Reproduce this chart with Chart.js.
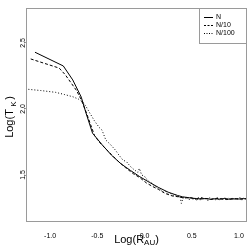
<!DOCTYPE html>
<html>
<head>
<meta charset="utf-8">
<script src="https://cdn.jsdelivr.net/npm/chart.js@4"></script>
<style>
  body { margin: 0; background: #fff; }
  #wrap { width: 249px; height: 249px; }
</style>
</head>
<body>
<div id="wrap"><canvas id="chart" width="249" height="249"></canvas></div>
<script>
// series names
const seriesNames = ['N', 'N/10', 'N/100'];

// N
const xN = [-1.16, -0.86, -0.76, -0.67, -0.62, -0.55, -0.45, -0.35, -0.25, -0.15, -0.05, 0.05, 0.15, 0.25,
  0.35, 0.4, 0.45, 0.5, 0.55, 0.6, 0.65, 0.7, 0.75, 0.8, 0.85, 0.9, 0.95, 1.0, 1.05, 1.1, 1.13];
const yN = [2.43, 2.326, 2.22, 2.09, 1.97, 1.816, 1.73, 1.65, 1.585, 1.535, 1.487, 1.445, 1.405, 1.37,
  1.345, 1.335, 1.33, 1.324, 1.322, 1.318, 1.322, 1.316, 1.32, 1.317, 1.322, 1.316, 1.32, 1.318, 1.321, 1.317, 1.319];

// N/10
const xN10 = [-1.205, -0.904, -0.84, -0.78, -0.72, -0.67, -0.62, -0.57, -0.53, -0.48, -0.42, -0.35, -0.28, -0.2,
  -0.12, -0.05, 0.02, 0.08, 0.15, 0.22, 0.3, 0.36, 0.42, 0.48, 0.55, 0.62, 0.7, 0.78, 0.86, 0.94, 1.02, 1.1];
const yN10 = [2.379, 2.31, 2.26, 2.2, 2.14, 2.07, 1.98, 1.88, 1.8, 1.75, 1.705, 1.655, 1.605, 1.555,
  1.51, 1.48, 1.44, 1.415, 1.39, 1.36, 1.34, 1.335, 1.325, 1.33, 1.318, 1.325, 1.316, 1.322, 1.315, 1.32, 1.318, 1.322];

// N/100
const xN100 = [-1.23, -1.1, -0.94, -0.85, -0.76, -0.7, -0.656, -0.62, -0.58, -0.53, -0.48, -0.45, -0.41, -0.36,
  -0.31, -0.27, -0.23, -0.19, -0.15, -0.11, -0.07, -0.055, -0.03, 0.0, 0.02, 0.05, 0.075, 0.1, 0.125, 0.15,
  0.175, 0.2, 0.225, 0.25, 0.275, 0.3, 0.325, 0.35, 0.375, 0.39, 0.41, 0.43, 0.45, 0.47, 0.49, 0.51, 0.53,
  0.55, 0.57, 0.59, 0.61, 0.63, 0.65, 0.67, 0.69, 0.71, 0.73, 0.75, 0.77, 0.79, 0.81, 0.83, 0.85, 0.87,
  0.89, 0.91, 0.93, 0.95, 0.97, 0.99, 1.01, 1.03, 1.05, 1.07, 1.09, 1.11];
const yN100 = [2.149, 2.14, 2.126, 2.11, 2.093, 2.075, 2.055, 2.02, 1.97, 1.91, 1.86, 1.84, 1.765, 1.73,
  1.69, 1.65, 1.614, 1.6, 1.565, 1.54, 1.52, 1.55, 1.5, 1.49, 1.47, 1.45, 1.44, 1.42, 1.41, 1.4,
  1.385, 1.37, 1.375, 1.355, 1.36, 1.345, 1.35, 1.335, 1.34, 1.285, 1.33, 1.325, 1.335, 1.31, 1.33, 1.315, 1.325,
  1.305, 1.33, 1.31, 1.335, 1.315, 1.32, 1.305, 1.33, 1.31, 1.325, 1.312, 1.33, 1.31, 1.325, 1.315, 1.33, 1.31,
  1.325, 1.315, 1.33, 1.31, 1.325, 1.318, 1.33, 1.31, 1.325, 1.315, 1.328, 1.318];

// tick labels
const xTicks = [-1.0, -0.5, 0.0, 0.5, 1.0];
const yTicks = [1.5, 2.0, 2.5];

const FONT = "'Liberation Sans', Arial, sans-serif";

const toPoints = (xs, ys) => xs.map((x, i) => ({ x: x, y: ys[i] }));

const lineStyle = (dash) => ({
  showLine: true,
  borderColor: '#000',
  borderWidth: 1,
  borderDash: dash,
  pointRadius: 0,
  fill: false,
  tension: 0
});

// writes a label with a subscript, centered on (x, y)
function subText(ctx, parts, x, y) {
  let total = 0;
  parts.forEach(p => {
    ctx.font = p.size + 'px ' + FONT;
    p.w = ctx.measureText(p.t).width + (p.gap || 0);
    total += p.w;
  });
  let cx = x - total / 2;
  ctx.textAlign = 'left';
  ctx.textBaseline = 'alphabetic';
  parts.forEach(p => {
    ctx.font = p.size + 'px ' + FONT;
    ctx.fillText(p.t, cx + (p.gap || 0), y + (p.dy || 0));
    cx += p.w;
  });
}

const framePlugin = {
  id: 'frame',
  afterDraw(chart) {
    const { ctx, chartArea: a } = chart;
    ctx.save();
    ctx.strokeStyle = '#9a9a9a';
    ctx.lineWidth = 1;
    ctx.strokeRect(a.left + 0.5, a.top + 0.5, a.right - a.left - 1, a.bottom - a.top - 1);

    // axis titles
    ctx.fillStyle = '#000';
    subText(ctx, [
      { t: 'Log(', size: 11 },
      { t: 'R', size: 11 },
      { t: 'AU', size: 8, dy: 2.5 },
      { t: ')', size: 11 }
    ], (a.left + a.right) / 2, 242.5);

    ctx.translate(13, (a.top + a.bottom) / 2 + 2);
    ctx.rotate(-Math.PI / 2);
    subText(ctx, [
      { t: 'Log(', size: 11 },
      { t: 'T', size: 11 },
      { t: 'K', size: 8, dy: 2.5, gap: 2.5 },
      { t: ')', size: 11, gap: 1.5 }
    ], 0, 0);
    ctx.restore();

    // legend, top right corner
    const bx = 199, by = a.top, bw = a.right - bx, bh = 36;
    ctx.save();
    ctx.fillStyle = '#fff';
    ctx.fillRect(bx, by, bw, bh);
    ctx.strokeStyle = '#9a9a9a';
    ctx.strokeRect(bx + 0.5, by + 0.5, bw - 1, bh - 1);
    ctx.font = '7px ' + FONT;
    ctx.textBaseline = 'middle';
    ctx.textAlign = 'left';
    chart.data.datasets.forEach((ds, i) => {
      const ly = by + 9.5 + i * 8;
      ctx.strokeStyle = ds.borderColor;
      ctx.lineWidth = 1;
      ctx.setLineDash(i === 0 ? [] : (i === 1 ? [2, 1.5] : [1, 1.5]));
      ctx.beginPath();
      ctx.moveTo(bx + 5, ly);
      ctx.lineTo(bx + 14, ly);
      ctx.stroke();
      ctx.setLineDash([]);
      ctx.fillStyle = '#000';
      ctx.fillText(ds.label, bx + 17, ly);
    });
    ctx.restore();
  }
};

new Chart(document.getElementById('chart'), {
  type: 'scatter',
  data: {
    datasets: [
      Object.assign({ label: seriesNames[0], data: toPoints(xN, yN) }, lineStyle([])),
      Object.assign({ label: seriesNames[1], data: toPoints(xN10, yN10) }, lineStyle([3, 2])),
      Object.assign({ label: seriesNames[2], data: toPoints(xN100, yN100) }, lineStyle([1, 2]))
    ]
  },
  options: {
    responsive: false,
    animation: false,
    layout: { padding: { top: 8, right: 2, left: 0, bottom: 0 } },
    plugins: {
      legend: { display: false },
      tooltip: { enabled: false }
    },
    scales: {
      x: {
        type: 'linear',
        min: -1.255,
        max: 1.085,
        afterFit: (s) => { s.height = 27; },
        afterBuildTicks: (s) => { s.ticks = xTicks.map(v => ({ value: v })); },
        grid: { display: false },
        border: { display: false },
        ticks: {
          padding: 2,
          maxRotation: 0,
          color: '#000',
          font: { family: FONT, size: 7 },
          callback: (v) => Number(v).toFixed(1)
        }
      },
      y: {
        type: 'linear',
        min: 1.144,
        max: 2.765,
        afterFit: (s) => { s.width = 26; },
        afterBuildTicks: (s) => { s.ticks = yTicks.map(v => ({ value: v })); },
        grid: { drawOnChartArea: false, drawTicks: true, tickLength: 2, color: '#9a9a9a' },
        border: { display: false },
        ticks: {
          padding: -4,
          minRotation: 90,
          maxRotation: 90,
          crossAlign: 'center',
          color: '#000',
          font: { family: FONT, size: 7 },
          callback: (v) => Number(v).toFixed(1)
        }
      }
    }
  },
  plugins: [framePlugin]
});
</script>
</body>
</html>
